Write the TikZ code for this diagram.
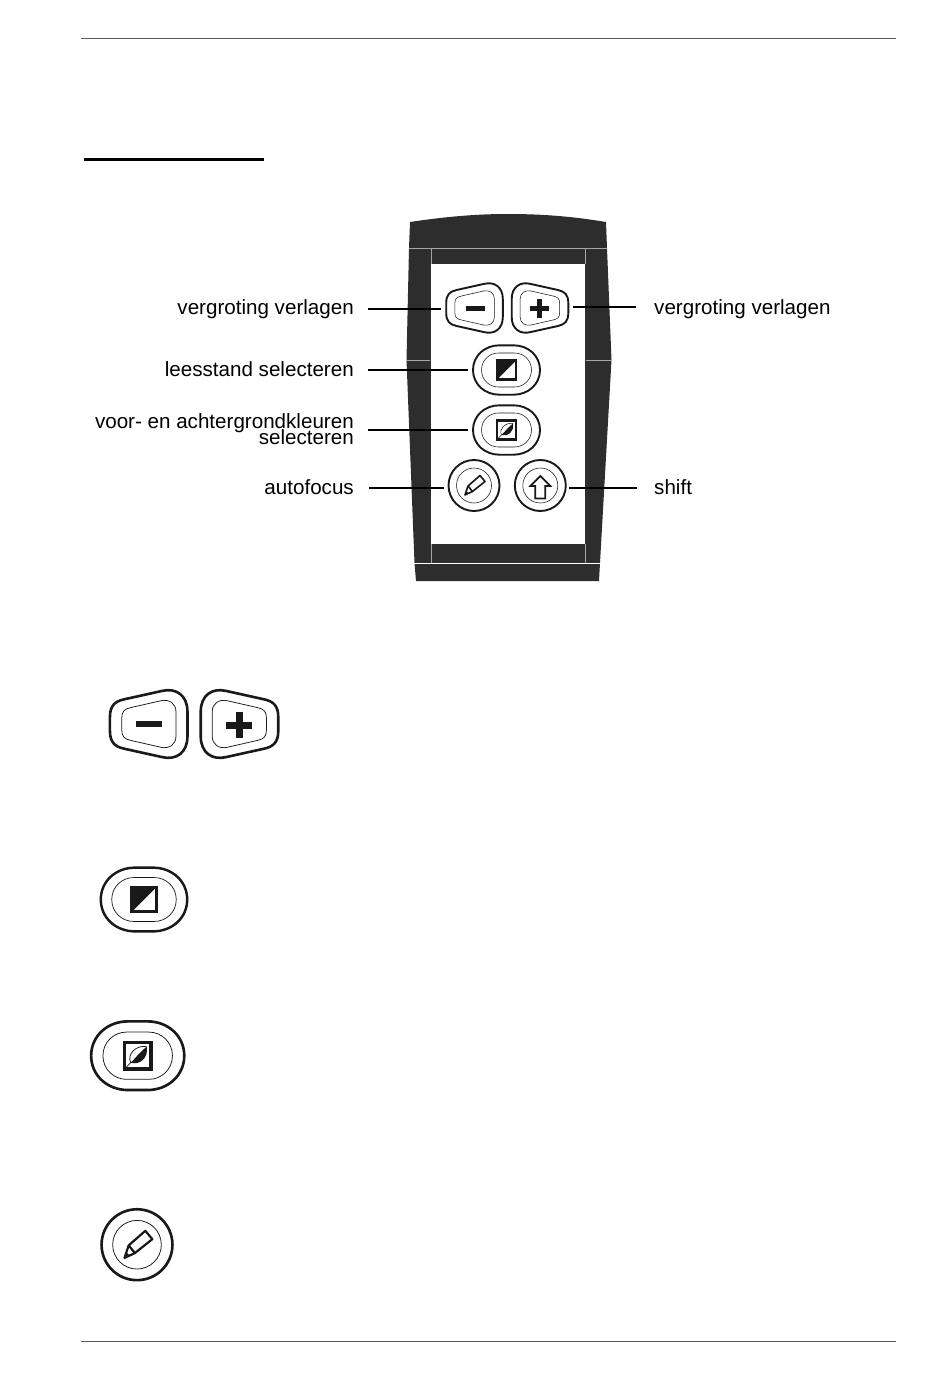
\documentclass[tikz,border=0pt]{standalone}
\usepackage{fontspec}
\usepackage{xcolor}
\usetikzlibrary{positioning}
\setmainfont{Liberation Sans}
\definecolor{bodydark}{RGB}{45,45,45}
\definecolor{bodyline}{RGB}{165,165,165}
\definecolor{rulegray}{RGB}{90,90,90}
\definecolor{keyink}{RGB}{25,25,25}
\newcommand{\wingouter}{(-28.3,-5) .. controls (-28.3,-13) and (-25,-16.5) .. (-18,-18) -- (10,-24.2)
  .. controls (20,-26.5) and (28.3,-21) .. (28.3,-9) -- (28.3,9)
  .. controls (28.3,21) and (20,26.5) .. (10,24.2) -- (-18,18)
  .. controls (-25,16.5) and (-28.3,13) .. (-28.3,5) -- cycle}
\newcommand{\winginner}{(-19.7,-4) .. controls (-19.7,-9) and (-18,-11) .. (-13,-12) -- (9,-17)
  .. controls (15,-18.3) and (19.9,-15) .. (19.9,-9) -- (19.9,9)
  .. controls (19.9,15) and (15,18.3) .. (9,17) -- (-13,12)
  .. controls (-18,11) and (-19.7,9) .. (-19.7,4) -- cycle}
\newcommand{\ovalouter}{(-33.5,0) .. controls (-33.5,-14) and (-22,-24.7) .. (-7,-24.7) -- (7,-24.7)
  .. controls (22,-24.7) and (33.5,-14) .. (33.5,0)
  .. controls (33.5,14) and (22,24.7) .. (7,24.7) -- (-7,24.7)
  .. controls (-22,24.7) and (-33.5,14) .. (-33.5,0) -- cycle}
\newcommand{\ovalinner}{(-25,0) .. controls (-25,-10) and (-17,-17) .. (-8,-17) -- (8,-17)
  .. controls (17,-17) and (25,-10) .. (25,0)
  .. controls (25,10) and (17,17) .. (8,17) -- (-8,17)
  .. controls (-17,17) and (-25,10) .. (-25,0) -- cycle}
\tikzset{
  keyout/.style={draw=keyink,line width=#1*1.9pt,line join=round},
  keyin/.style={draw=keyink,line width=#1*0.55pt,line join=round},
  keyicon/.style={draw=keyink,line width=#1*1.6pt,line join=miter},
  pics/minuskey/.style={code={
    \draw[keyout=#1] \wingouter;
    \draw[keyin=#1] \winginner;
    \fill[keyink] (-9,-2.5) rectangle (10,2.5);
    \coordinate (-w) at (-33.5,1);
  }},
  pics/pluskey/.style={code={
    \draw[keyout=#1,xscale=-1] \wingouter;
    \draw[keyin=#1,xscale=-1] \winginner;
    \fill[keyink] (-9.6,-1.6) rectangle (9.4,3.4);
    \fill[keyink] (-2.6,-8.7) rectangle (2.4,10.3);
    \coordinate (-e) at (33,-1);
  }},
  pics/modekey/.style={code={
    \draw[keyout=#1] \ovalouter;
    \draw[keyin=#1] \ovalinner;
    \draw[keyicon=#1,line width=#1*2.4pt] (-9.6,-9.6) rectangle (9.6,9.6);
    \fill[keyink] (-9,-9) -- (9,-9) -- (-9,9) -- cycle;
    \coordinate (-w) at (-38.5,0);
  }},
  pics/colorkey/.style={code={
    \draw[keyout=#1] \ovalouter;
    \draw[keyin=#1] \ovalinner;
    \draw[keyicon=#1,line width=#1*2.4pt] (-9.6,-9.6) rectangle (9.6,9.6);
    \fill[keyink] (6.5,-6.5) .. controls (8,2) and (1,7) .. (-5,5) .. controls (-1,1) and (1,-2) .. cycle;
    \draw[keyin=#1] (6.5,-6.5) .. controls (-1,-8) and (-8,-1) .. (-5,5) -- (-8,8);
    \coordinate (-w) at (-38.5,0);
  }},
  pics/focuskey/.style={code={
    \draw[keyout=#1] (0,0) circle (25.5);
    \draw[keyin=#1] (0,0) circle (17.5);
    \draw[keyicon=#1,line width=#1*1.6pt,line join=round] (6,-10) -- (11,-4) -- (-1.5,6) -- (-6,0.5) -- cycle;
    \draw[keyicon=#1,line width=#1*1.6pt,line join=round] (-6,0.5) -- (-9,9.5) -- (-1.5,6);
    \fill[keyink] (-7.7,5.5) -- (-9,9.5) -- (-5,8) -- cycle;
    \coordinate (-w) at (-30,2.5);
  }},
  pics/shiftkey/.style={code={
    \draw[keyout=#1] (0,0) circle (25.5);
    \draw[keyin=#1] (0,0) circle (17.5);
    \draw[keyicon=#1,line width=#1*1.7pt] (0,-9.5) -- (10,0.5) -- (5,0.5) -- (5,13) -- (-5,13) -- (-5,0.5) -- (-10,0.5) -- cycle;
    \coordinate (-e) at (28.7,2.5);
  }}
}
\begin{document}
\begin{tikzpicture}[
  x=1pt,y=-1pt,
  lbl/.style={font=\fontsize{20.6}{16}\selectfont,inner sep=0pt,text=black},
  lead/.style={line width=1.7pt,draw=black},
  pagerule/.style={line width=0.9pt,draw=rulegray},
  seam/.style={line width=1pt,draw=bodyline}]
  \useasboundingbox (0,0) rectangle (950,1378);
  % page
  \coordinate (rta) at (81,38.5);
  \coordinate (rtb) at (896,38.5);
  \coordinate (rba) at (81,1341.5);
  \coordinate (rbb) at (896,1341.5);
  \coordinate (ula) at (84,159);
  \coordinate (ulb) at (264,159);
  \draw[pagerule] (rta)--(rtb);
  \draw[pagerule] (rba)--(rbb);
  \draw[line width=3pt] (ula)--(ulb);
  % remote
  \fill[bodydark] (410,222) .. controls (450,216) and (480,214) .. (508,214)
    .. controls (540,214) and (570,216) .. (606,222)
    -- (607,248) -- (611.5,360) -- (600,563) -- (599,581) -- (416,581) -- (414.5,563)
    -- (406.5,360) -- (409,248) -- cycle;
  \fill[white] (431,264) rectangle (585,544);
  \draw[seam] (409,248)--(607,248);
  \draw[seam] (431,248)--(431,264);
  \draw[seam] (585,248)--(585,264);
  \draw[seam] (407,360.5)--(430,360.5);
  \draw[seam] (586,360.5)--(611,360.5);
  \draw[seam] (431,544)--(431,563);
  \draw[seam] (585,544)--(585,563);
  \draw[white,line width=1.2pt] (414,563.5)--(601,563.5);
  % keys on the remote
  \pic (minus) at (474.5,308) {minuskey=1};
  \pic (plus) at (540,308) {pluskey=1};
  \pic (mode) at (506.5,370) {modekey=1};
  \pic (color) at (506.5,430) {colorkey=1};
  \pic (focus) at (474,485.5) {focuskey=1};
  \pic (shift) at (540.3,485.5) {shiftkey=1};
  % labels
  \node[lbl,anchor=base east] (lblminus) at (354,314) {vergroting verlagen};
  \node[lbl,anchor=base west] (lblplus) at (654,314) {vergroting verlagen};
  \node[lbl,anchor=base east] (lblmode) at (354,376) {leesstand selecteren};
  \node[lbl,anchor=east,align=right] (lblcolor) at (354,429) {voor- en achtergrondkleuren\\[-4pt]selecteren};
  \node[lbl,anchor=base east] (lblfocus) at (354,494) {autofocus};
  \node[lbl,anchor=base west] (lblshift) at (654,494) {shift};
  \draw[lead,shorten <=14pt] (lblminus.east |- minus-w)--(minus-w);
  \draw[lead,shorten <=14pt] (lblmode.east |- mode-w)--(mode-w);
  \draw[lead,shorten <=14pt] (lblcolor.east |- color-w)--(color-w);
  \draw[lead,shorten <=15pt] (lblfocus.east |- focus-w)--(focus-w);
  \draw[lead,shorten >=18pt] (plus-e)--(lblplus.west |- plus-e);
  \draw[lead,shorten >=17pt] (shift-e)--(lblshift.west |- shift-e);
  % keys, large
  \pic[scale=1.37] (minusb) at (148.7,724) {minuskey=1.37};
  \pic[scale=1.37] (plusb) at (239.5,724) {pluskey=1.37};
  \pic[scale=1.29] (modeb) at (144,899.5) {modekey=1.29};
  \pic[scale=1.39] (colorb) at (137.7,1055.7) {colorkey=1.39};
  \pic[scale=1.39] (focusb) at (137,1244.7) {focuskey=1.39};
\end{tikzpicture}
\end{document}
